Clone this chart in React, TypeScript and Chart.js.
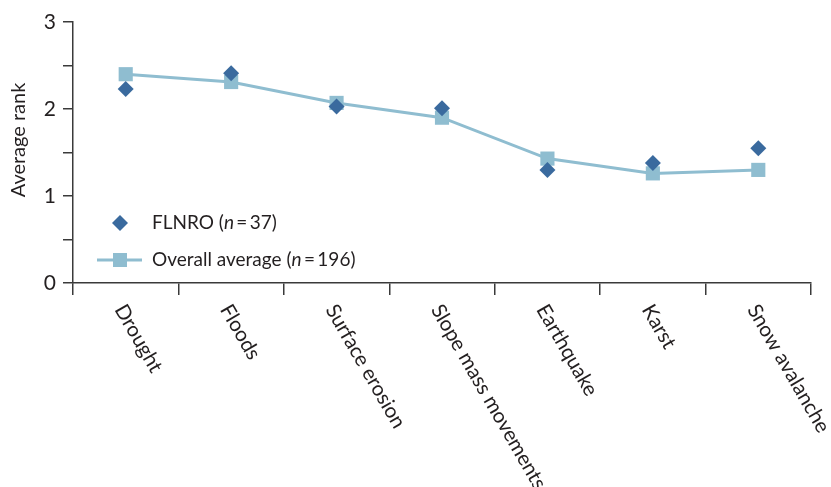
import React, { useEffect, useRef } from 'react';
import { Chart, registerables } from 'chart.js';

Chart.register(...registerables);

const categories = ['Drought', 'Floods', 'Surface erosion', 'Slope mass movements', 'Earthquake', 'Karst', 'Snow avalanche'];
const flnroValues = [2.23, 2.41, 2.03, 2.01, 1.3, 1.38, 1.55];
const overallValues = [2.4, 2.31, 2.07, 1.9, 1.43, 1.26, 1.3];
const yTickValues = [0, 0.5, 1, 1.5, 2, 2.5, 3];
const yTitle = 'Average rank';
const flnroLabel = ['FLNRO (', 'n', '\u2009=\u200937)'];
const overallLabel = ['Overall average (', 'n', '\u2009=\u2009196)'];

const FONT = 'Lato, "Open Sans", sans-serif';
const TEXT = '#231f20';
const AXIS = '#3a3a3a';
const DIAMOND = '#3a6a9e';
const SQUARE = '#8fbdd0';
const W = 831;
const H = 487;

function drawRich(ctx: CanvasRenderingContext2D, parts: string[], x: number, y: number, size: number) {
  let cx = x;
  parts.forEach((p, i) => {
    ctx.font = `${i === 1 ? 'italic ' : ''}${size}px ${FONT}`;
    ctx.fillText(p, cx, y);
    cx += ctx.measureText(p).width;
  });
}

const overlayPlugin = {
  id: 'overlay',
  afterDraw(chart: any) {
    const ctx: CanvasRenderingContext2D = chart.ctx;
    const xs = chart.scales.x;
    const area = chart.chartArea;
    ctx.save();
    ctx.fillStyle = TEXT;
    // rotated category labels
    ctx.font = `20.5px ${FONT}`;
    ctx.textAlign = 'left';
    ctx.textBaseline = 'top';
    categories.forEach((c, i) => {
      const px = xs.getPixelForValue(i);
      ctx.save();
      ctx.translate(px + 3, xs.top + 18);
      ctx.rotate(Math.PI / 3);
      ctx.fillText(c, 0, 0);
      ctx.restore();
    });
    // y title
    ctx.save();
    ctx.font = `20px ${FONT}`;
    ctx.translate(19, 140);
    ctx.rotate(-Math.PI / 2);
    ctx.textAlign = 'center';
    ctx.textBaseline = 'middle';
    ctx.fillText(yTitle, 0, 0);
    ctx.restore();
    // legend
    const lx = area.left + 47;
    const y1 = area.top + 201;
    const y2 = area.top + 238;
    ctx.fillStyle = DIAMOND;
    ctx.beginPath();
    ctx.moveTo(lx - 8, y1);
    ctx.lineTo(lx, y1 - 8);
    ctx.lineTo(lx + 8, y1);
    ctx.lineTo(lx, y1 + 8);
    ctx.closePath();
    ctx.fill();
    ctx.strokeStyle = SQUARE;
    ctx.lineWidth = 3;
    ctx.beginPath();
    ctx.moveTo(lx - 23, y2);
    ctx.lineTo(lx + 22, y2);
    ctx.stroke();
    ctx.fillStyle = SQUARE;
    ctx.fillRect(lx - 7, y2 - 7, 14, 14);
    ctx.fillStyle = TEXT;
    ctx.textAlign = 'left';
    ctx.textBaseline = 'middle';
    drawRich(ctx, flnroLabel, lx + 32, y1, 19);
    drawRich(ctx, overallLabel, lx + 32, y2, 19);
    ctx.restore();
  },
};

export default function App() {
  const ref = useRef<HTMLCanvasElement>(null);
  useEffect(() => {
    if (!ref.current) return;
    const chart = new Chart(ref.current, {
      type: 'line',
      data: {
        labels: categories,
        datasets: [
          {
            label: 'FLNRO (n = 37)',
            data: flnroValues,
            showLine: false,
            pointStyle: 'rectRot',
            pointRadius: 8,
            pointBorderWidth: 0,
            pointBackgroundColor: DIAMOND,
            pointBorderColor: DIAMOND,
            borderColor: DIAMOND,
            backgroundColor: DIAMOND,
            order: 0,
          },
          {
            label: 'Overall average (n = 196)',
            data: overallValues,
            borderColor: SQUARE,
            backgroundColor: SQUARE,
            borderWidth: 3,
            tension: 0,
            pointStyle: 'rect',
            pointRadius: 10,
            pointBorderWidth: 0,
            pointBackgroundColor: SQUARE,
            order: 1,
          },
        ],
      },
      options: {
        responsive: false,
        animation: false,
        devicePixelRatio: 1,
        layout: { padding: { top: 22, right: 20, left: 0, bottom: 0 } },
        plugins: { legend: { display: false }, tooltip: { enabled: false } },
        scales: {
          x: {
            type: 'category',
            offset: true,
            grid: { offset: true, drawOnChartArea: false, tickLength: 12, color: AXIS, lineWidth: 1.5 },
            border: { color: AXIS, width: 1.5 },
            ticks: { display: false },
            afterFit: (s: any) => {
              s.height = H - 283;
            },
          },
          y: {
            min: 0,
            max: 3,
            afterBuildTicks: (s: any) => {
              s.ticks = yTickValues.map((v) => ({ value: v }));
            },
            ticks: {
              callback: (v: any) => (Number.isInteger(v) ? String(v) : ''),
              font: { size: 21, family: FONT },
              color: TEXT,
              padding: 7,
            },
            grid: { drawOnChartArea: false, tickLength: 10, color: AXIS, lineWidth: 1.5 },
            border: { color: AXIS, width: 1.5 },
            afterFit: (s: any) => {
              s.width = 73;
            },
          },
        },
      },
      plugins: [overlayPlugin],
    });
    return () => chart.destroy();
  }, []);
  return (
    <div style={{ position: 'absolute', left: 0, top: 0, width: W, height: H, background: '#fff' }}>
      <canvas ref={ref} width={W} height={H} style={{ width: W, height: H, display: 'block' }} />
    </div>
  );
}
